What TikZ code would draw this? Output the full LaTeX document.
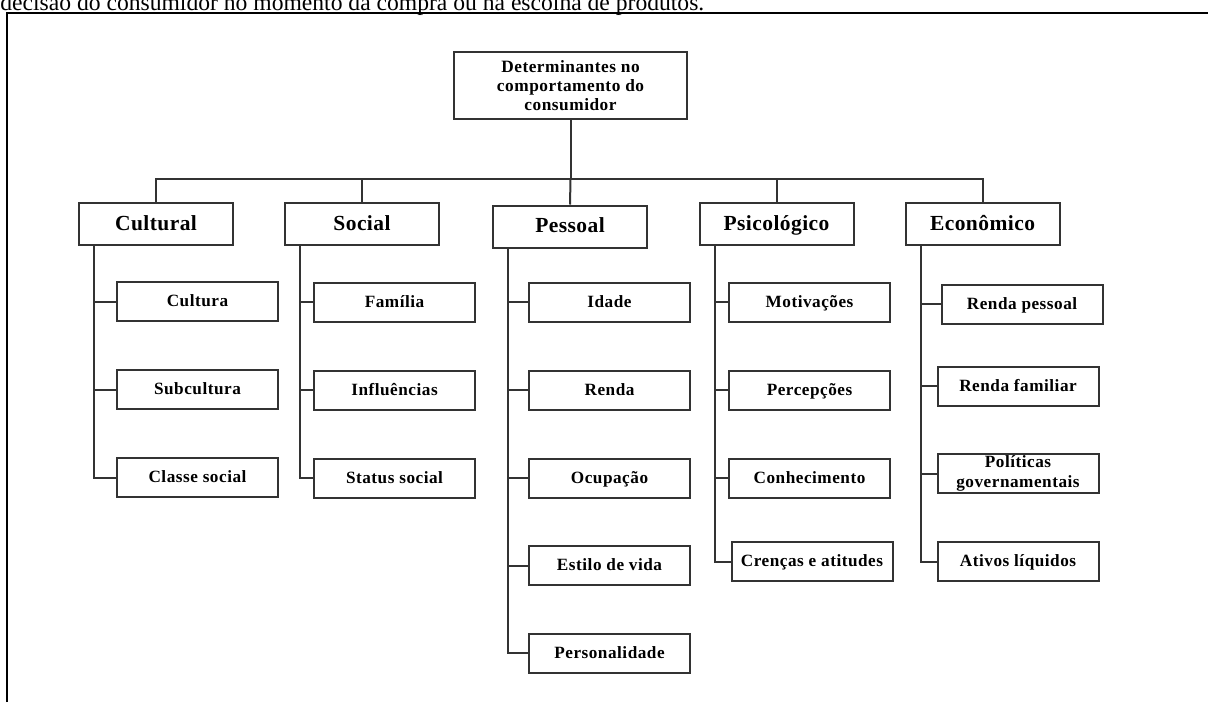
\documentclass[tikz,border=0pt]{standalone}
\usepackage{fontspec}
\setmainfont{Liberation Serif}
\usepackage{tikz}
\definecolor{linegray}{HTML}{333333}

\begin{document}
\begin{tikzpicture}[x=0.5pt,y=-0.5pt]
\tikzstyle{every node}+=[inner sep=0pt]
\tikzstyle{boxbase}=[draw=linegray,line width=1pt,align=center]
\tikzstyle{topbox}=[boxbase,minimum width=116.5pt,minimum height=33.5pt,font=\bfseries\fontsize{8.65}{9.5}\selectfont\addfontfeature{LetterSpace=3}]
\tikzstyle{catbox}=[boxbase,minimum width=77pt,minimum height=21pt,text height=7.8pt,text depth=1.8pt,font=\bfseries\fontsize{10.75}{12}\selectfont\addfontfeature{LetterSpace=2}]
\tikzstyle{itembox}=[boxbase,minimum width=80.5pt,minimum height=19.5pt,text height=6.5pt,text depth=1.5pt,font=\bfseries\fontsize{8.6}{8.6}\selectfont\addfontfeature{LetterSpace=3}]
\tikzstyle{pairbox}=[boxbase,minimum width=80.5pt,minimum height=19.5pt,font=\bfseries\fontsize{8.6}{10}\selectfont\addfontfeature{LetterSpace=3}]
\tikzstyle{link}=[draw=linegray,line width=1pt]
\useasboundingbox (0,0) rectangle (1208,702);
\node [anchor=base west,font=\fontsize{11.8}{13}\selectfont] (caption) at (0,10.5) {decisão do consumidor no momento da compra ou na escolha de produtos.};
\draw [black,line width=0.75pt] (7,702) -- (7,13) -- (1208,13);
\node [topbox] (root) at (570.5,85.5) {Determinantes no\\comportamento do\\consumidor};
\coordinate (bus) at (570.5,179);
\node [catbox] (cul) at (156,224) {Cultural};
\node [catbox] (soc) at (362,224) {Social};
\node [catbox] (pes) at (570,226.5) {Pessoal};
\node [catbox] (psi) at (776.5,224) {Psicológico};
\node [catbox] (eco) at (982.5,224) {Econômico};
\node [itembox] (cul1) at (197.5,301.5) {Cultura};
\node [itembox] (cul2) at (197.5,389.5) {Subcultura};
\node [itembox] (cul3) at (197.5,477.5) {Classe social};
\node [itembox] (soc1) at (394.5,302) {Família};
\node [itembox] (soc2) at (394.5,390) {Influências};
\node [itembox] (soc3) at (394.5,478) {Status social};
\node [itembox] (pes1) at (609.5,302) {Idade};
\node [itembox] (pes2) at (609.5,390) {Renda};
\node [itembox] (pes3) at (609.5,478) {Ocupação};
\node [itembox] (pes4) at (609.5,565.5) {Estilo de vida};
\node [itembox] (pes5) at (609.5,653) {Personalidade};
\node [itembox] (psi1) at (809.5,302) {Motivações};
\node [itembox] (psi2) at (809.5,390) {Percepções};
\node [itembox] (psi3) at (809.5,478) {Conhecimento};
\node [itembox] (psi4) at (812,561.5) {Crenças e atitudes};
\node [itembox] (eco1) at (1022,304) {Renda pessoal};
\node [itembox] (eco2) at (1018,386) {Renda familiar};
\node [pairbox] (eco3) at (1018,473.5) {Políticas\\governamentais};
\node [itembox] (eco4) at (1018,561.5) {Ativos líquidos};
\draw [link] (root.south) -- (bus);
\draw [link] (cul.north) |- (bus);
\draw [link] (soc.north) |- (bus);
\draw [link] (pes.north) -- (bus);
\draw [link] (psi.north) |- (bus);
\draw [link] (eco.north) |- (bus);
\draw [link] ([xshift=8pt]cul.south west) |- (cul1.west);
\draw [link] ([xshift=8pt]cul.south west) |- (cul2.west);
\draw [link] ([xshift=8pt]cul.south west) |- (cul3.west);
\draw [link] ([xshift=8pt]soc.south west) |- (soc1.west);
\draw [link] ([xshift=8pt]soc.south west) |- (soc2.west);
\draw [link] ([xshift=8pt]soc.south west) |- (soc3.west);
\draw [link] ([xshift=8pt]pes.south west) |- (pes1.west);
\draw [link] ([xshift=8pt]pes.south west) |- (pes2.west);
\draw [link] ([xshift=8pt]pes.south west) |- (pes3.west);
\draw [link] ([xshift=8pt]pes.south west) |- (pes4.west);
\draw [link] ([xshift=8pt]pes.south west) |- (pes5.west);
\draw [link] ([xshift=8pt]psi.south west) |- (psi1.west);
\draw [link] ([xshift=8pt]psi.south west) |- (psi2.west);
\draw [link] ([xshift=8pt]psi.south west) |- (psi3.west);
\draw [link] ([xshift=8pt]psi.south west) |- (psi4.west);
\draw [link] ([xshift=8pt]eco.south west) |- (eco1.west);
\draw [link] ([xshift=8pt]eco.south west) |- (eco2.west);
\draw [link] ([xshift=8pt]eco.south west) |- (eco3.west);
\draw [link] ([xshift=8pt]eco.south west) |- (eco4.west);
\end{tikzpicture}
\end{document}
